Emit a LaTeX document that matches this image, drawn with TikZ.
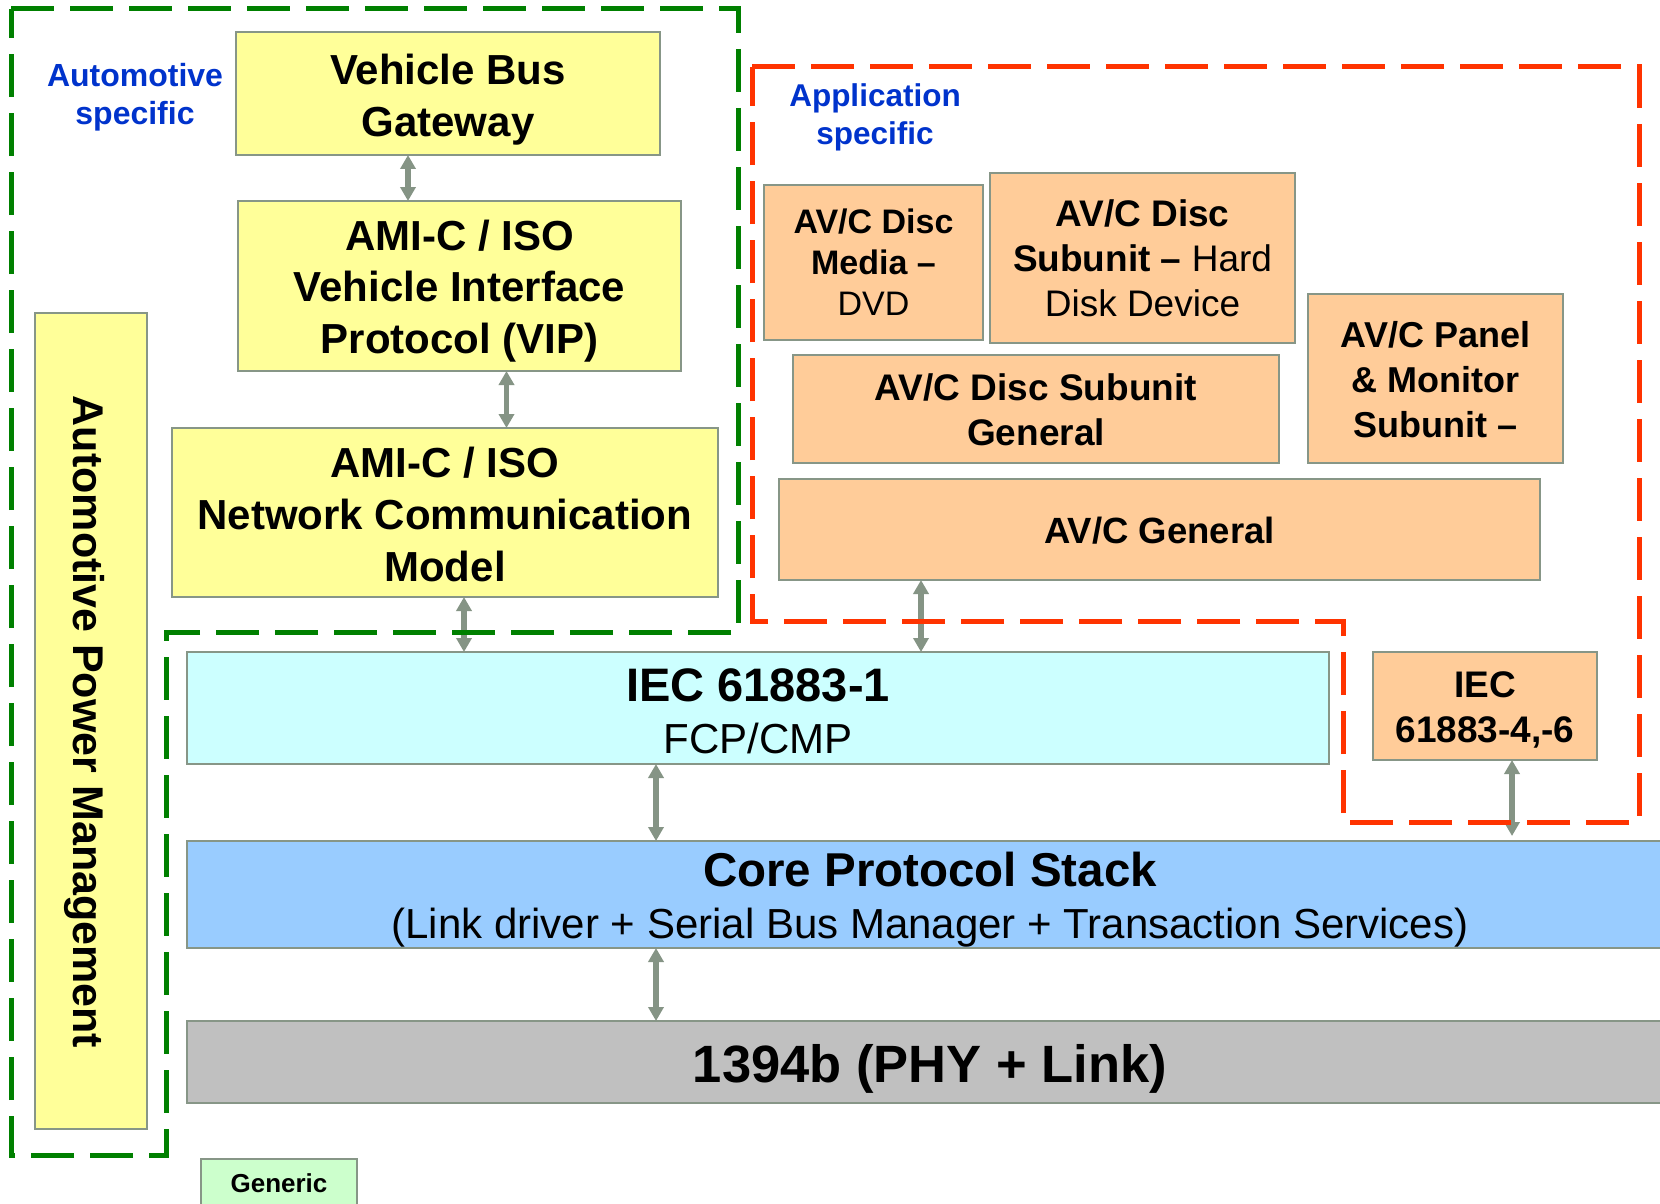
\documentclass[tikz,border=0pt]{standalone}
\usepackage{fontspec}
\setmainfont{Liberation Sans}
\usetikzlibrary{arrows.meta}

\definecolor{boxline}{RGB}{135,150,135}
\definecolor{linkgrey}{RGB}{133,148,133}
\definecolor{vehyellow}{RGB}{255,255,153}
\definecolor{avorange}{RGB}{255,204,153}
\definecolor{iecyan}{RGB}{204,255,255}
\definecolor{coreblue}{RGB}{153,204,255}
\definecolor{phygrey}{RGB}{192,192,192}
\definecolor{genericgreen}{RGB}{204,255,204}
\definecolor{autogreen}{RGB}{0,128,0}
\definecolor{appred}{RGB}{255,51,0}
\definecolor{tagblue}{RGB}{0,51,204}

% stacked, centred lines whose baseline is the first line's baseline
\newcommand\mlines[1]{\begin{tabular}[t]{@{}c@{}}#1\end{tabular}}
\newcommand\fsz[2]{\fontsize{#1}{#2}\selectfont}

\tikzset{
  blk/.style={rectangle, draw=boxline, line width=2.6pt, inner sep=0pt, outer sep=0pt},
  yblk/.style={blk, fill=vehyellow},
  oblk/.style={blk, fill=avorange},
  lbl/.style={inner sep=0pt, outer sep=0pt, anchor=base, text=black},
  tag/.style={lbl, text=tagblue, font=\bfseries\fsz{32}{38}},
  link/.style={draw=linkgrey, line width=5.5pt,
    {Triangle[length=14pt,width=15pt]}-{Triangle[length=14pt,width=15pt]}},
  region/.style={line width=5pt, dash pattern=on 43pt off 16pt},
}

\begin{document}
\begin{tikzpicture}[x=1pt, y=-1pt]
\useasboundingbox (0,0) rectangle (1660,1204);
\fill[white] (0,0) rectangle (1660,1204);

% ---- automotive stack
\node[yblk, minimum width=424pt, minimum height=123pt] (vbg) at (448,93.5) {};
\node[yblk, minimum width=443pt, minimum height=170pt] (vip) at (459.5,286) {};
\node[yblk, minimum width=546pt, minimum height=169pt] (ncm) at (445,512.5) {};
\node[yblk, minimum width=112pt, minimum height=816pt] (apm) at (91,721) {};

% ---- application stack
\node[oblk, minimum width=219pt, minimum height=155pt] (dvd) at (873.5,262.5) {};
\node[oblk, minimum width=305pt, minimum height=170pt] (hdd) at (1142.5,258) {};
\node[oblk, minimum width=486pt, minimum height=108pt] (dsg) at (1036,409) {};
\node[oblk, minimum width=255pt, minimum height=169pt] (pnl) at (1435.5,378.5) {};
\node[oblk, minimum width=761pt, minimum height=101pt] (avg) at (1159.5,529.5) {};
\node[oblk, minimum width=224pt, minimum height=108pt] (iec46) at (1485,706) {};

% ---- generic stack
\node[blk, fill=iecyan, minimum width=1142pt, minimum height=112pt] (iec1) at (758,708) {};
\node[blk, fill=coreblue, minimum width=1486pt, minimum height=107pt] (core) at (930,894.5) {};
\node[blk, fill=phygrey, minimum width=1486pt, minimum height=82pt] (phy) at (930,1062) {};
\node[blk, fill=genericgreen, minimum width=156pt, minimum height=71pt] (gen) at (279,1194.5) {};

% ---- connectors
\coordinate (ax1) at (408,0);
\coordinate (ax2) at (506.5,0);
\coordinate (ax3) at (464,0);
\coordinate (ax4) at (921,0);
\coordinate (ax5) at (656,0);
\coordinate (ax6) at (1512,0);
\draw[link] (vbg.south -| ax1) -- (vip.north -| ax1);
\draw[link] (vip.south -| ax2) -- (ncm.north -| ax2);
\draw[link] (ncm.south -| ax3) -- (iec1.north -| ax3);
\draw[link] (avg.south -| ax4) -- (iec1.north -| ax4);
\draw[link] (iec1.south -| ax5) -- (core.north -| ax5);
\draw[link] (core.south -| ax5) -- (phy.north -| ax5);
\draw[link, shorten >=5pt] (iec46.south -| ax6) -- (core.north -| ax6);

% ---- domain outlines
\draw[region, autogreen] (11,9) -- (738,9) -- (738,632) -- (166,632)
  -- (166,1155) -- (11,1155) -- cycle;
\draw[region, appred] (752,67) -- (1639,67) -- (1639,822) -- (1343,822)
  -- (1343,621) -- (752,621) -- cycle;

% ---- labels
\node[tag] (autotag) at (135,87) {\mlines{Automotive\\specific}};
\node[tag, font=\bfseries\fsz{31.5}{38}] (apptag) at (875,107) {\mlines{Application\\specific}};

\node[lbl, font=\bfseries\fsz{42}{52}] (vbgtxt) at (448,84.5) {\mlines{Vehicle Bus\\Gateway}};
\node[lbl, font=\bfseries\fsz{42}{51.5}] (viptxt) at (459.5,250) {\mlines{AMI-C / ISO\\Vehicle Interface\\Protocol (VIP)}};
\node[lbl, font=\bfseries\fsz{42}{52}] (ncmtxt) at (445,477) {\mlines{AMI-C / ISO\\Network Communication\\Model}};
\node[lbl, rotate=-90, font=\bfseries\fsz{43}{50}] (apmtxt) at (73.5,722) {Automotive Power Management};

\node[lbl, font=\bfseries\fsz{34}{41}] (dvdtxt) at (873.5,233) {\mlines{AV/C Disc\\Media –\\\mdseries DVD}};
\node[lbl, font=\bfseries\fsz{37}{45}] (hddtxt) at (1142.5,226) {\mlines{AV/C Disc\\Subunit – \mdseries Hard\\\mdseries Disk Device}};
\node[lbl, font=\bfseries\fsz{37}{45}] (dsgtxt) at (1036,400) {\mlines{AV/C Disc Subunit\\General}};
\node[lbl, font=\bfseries\fsz{36}{45}] (pnltxt) at (1435.5,347) {\mlines{AV/C Panel\\\& Monitor\\Subunit –}};
\node[lbl, font=\bfseries\fsz{36.5}{45}] (avgtxt) at (1159.5,543) {AV/C General};
\node[lbl, font=\bfseries\fsz{37}{45}] (iec46txt) at (1485,697) {\mlines{IEC\\61883-4,-6}};

\node[lbl, font=\bfseries\fsz{47}{55}] (iec1txt) at (758,701) {IEC 61883-1};
\node[lbl, font=\fsz{42}{50}] (iec1sub) at (758,753) {FCP/CMP};
\node[lbl, font=\bfseries\fsz{47.5}{55}] (coretxt) at (930,886) {Core Protocol Stack};
\node[lbl, font=\fsz{42}{50}] (coresub) at (930,938) {(Link driver + Serial Bus Manager + Transaction Services)};
\node[lbl, font=\bfseries\fsz{52.5}{60}] (phytxt) at (930,1082) {1394b (PHY + Link)};
\node[lbl, font=\bfseries\fsz{26}{32}] (gentxt) at (279,1192) {Generic};
\end{tikzpicture}
\end{document}
